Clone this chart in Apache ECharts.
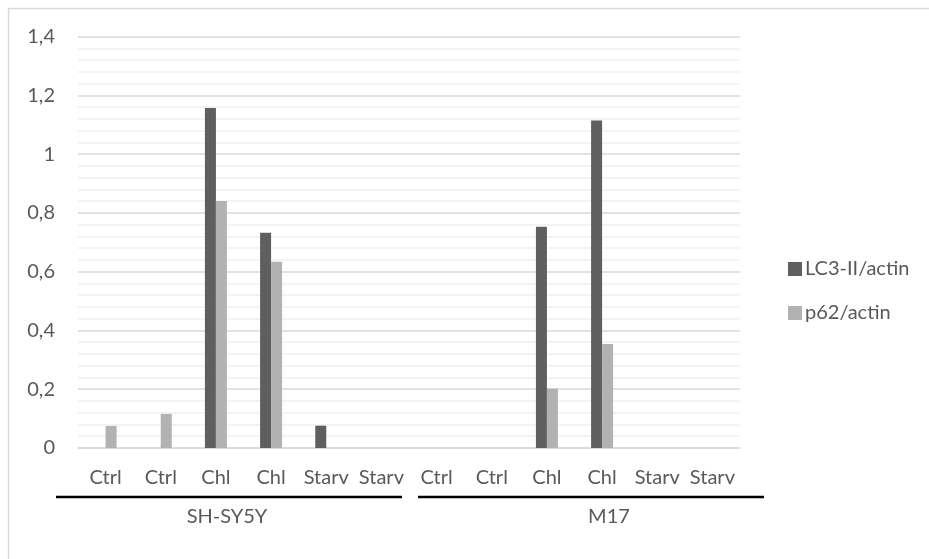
<!DOCTYPE html>
<html>
<head>
<meta charset="utf-8">
<script src="https://cdn.jsdelivr.net/npm/echarts@6/dist/echarts.min.js"></script>
<style>html,body{margin:0;padding:0;background:#fff;}#c{width:929px;height:559px;}</style>
</head>
<body>
<div id="c"></div>
<script>
const categories = ['Ctrl','Ctrl','Chl','Chl','Starv','Starv','Ctrl','Ctrl','Chl','Chl','Starv','Starv'];
const lc3Values = [null, null, 1.157, 0.733, 0.076, null, null, null, 0.753, 1.115, null, null];
const p62Values = [0.075, 0.116, 0.841, 0.634, null, null, null, null, 0.202, 0.354, null, null];
const seriesNames = ['LC3-II/actin', 'p62/actin'];
const groupLabels = ['SH-SY5Y', 'M17'];

const FONT = 'Lato';
const TXT = '#595959';
const chart = echarts.init(document.getElementById('c'), null, {renderer: 'canvas'});
chart.setOption({
  animation: false,
  backgroundColor: '#fff',
  textStyle: {fontFamily: FONT},
  grid: {left: 78, right: 189, top: 36.7, bottom: 111, containLabel: false},
  legend: {
    orient: 'vertical', left: 783, top: 254,
    itemWidth: 14, itemHeight: 14, itemGap: 24,
    icon: 'rect',
    textStyle: {fontFamily: FONT, fontSize: 20, color: TXT, padding: [0,0,0,-2]},
    data: seriesNames
  },
  xAxis: {
    type: 'category', data: categories,
    axisTick: {show: false},
    axisLine: {lineStyle: {color: '#d9d9d9', width: 1.5}},
    axisLabel: {interval: 0, margin: 20, fontFamily: FONT, fontSize: 20, color: TXT}
  },
  yAxis: {
    type: 'value', min: 0, max: 1.4, interval: 0.2,
    axisLine: {show: false}, axisTick: {show: false},
    axisLabel: {margin: 23, fontFamily: FONT, fontSize: 20, color: TXT,
      formatter: v => String(Math.round(v * 10) / 10).replace('.', ',')},
    splitLine: {lineStyle: {color: '#d9d9d9', width: 1.5}},
    minorTick: {show: false, splitNumber: 5},
    minorSplitLine: {show: true, lineStyle: {color: '#f0f0f0', width: 1.5}}
  },
  series: [
    {name: seriesNames[0], type: 'bar', data: lc3Values, barWidth: 11, barGap: 0,
     itemStyle: {color: '#5f5f5f'}},
    {name: seriesNames[1], type: 'bar', data: p62Values, barWidth: 11, barGap: 0,
     itemStyle: {color: '#b2b2b2'}}
  ],
  graphic: [
    {type: 'rect', silent: true, shape: {x: 8.5, y: 8.5, width: 1200, height: 1200},
     style: {fill: 'none', stroke: '#d9d9d9', lineWidth: 1.5}},
    {type: 'line', shape: {x1: 56, y1: 497, x2: 402, y2: 497}, style: {stroke: '#000', lineWidth: 2.5}},
    {type: 'line', shape: {x1: 418, y1: 497, x2: 764, y2: 497}, style: {stroke: '#000', lineWidth: 2.5}},
    {type: 'text', x: 227, y: 517, style: {text: groupLabels[0], fill: TXT, font: '20px ' + FONT, textAlign: 'center', textVerticalAlign: 'middle'}},
    {type: 'text', x: 609, y: 517, style: {text: groupLabels[1], fill: TXT, font: '20px ' + FONT, textAlign: 'center', textVerticalAlign: 'middle'}}
  ]
});
</script>
</body>
</html>
